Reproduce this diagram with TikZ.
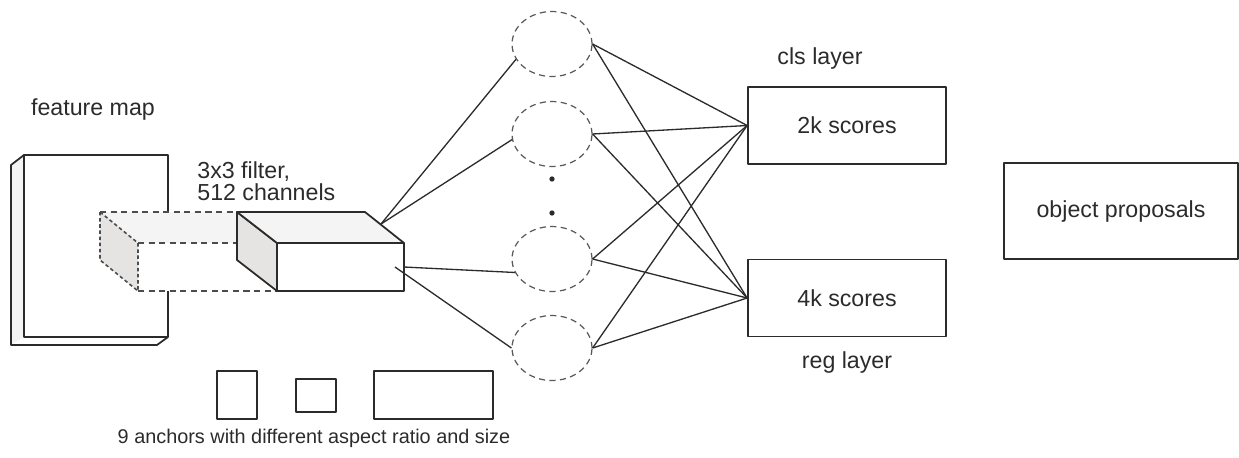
\documentclass[tikz,border=0pt]{standalone}
\usepackage{fontspec}
\setmainfont{Liberation Sans}
\usepackage{tikz}
\definecolor{inkgray}{HTML}{2B2B2B}
\definecolor{sidegray}{HTML}{E6E3E3}
\definecolor{topgray}{HTML}{F4F4F4}
\usetikzlibrary{shapes.geometric}

\begin{document}
\begin{tikzpicture}[x=0.02cm,y=-0.02cm,line join=round,
    lbl/.style={font=\fontsize{13.2}{15}\selectfont, text=inkgray, inner sep=0pt},
    unit/.style={draw=gray!70!black, ellipse, dash pattern=on 3.5pt off 2.5pt, line width=0.7pt,
        minimum width=1.6cm, minimum height=1.3cm, inner sep=0pt},
    layerbox/.style={draw=inkgray, line width=1pt, minimum width=3.96cm, minimum height=1.54cm,
        inner sep=0pt, font=\fontsize{13.2}{15}\selectfont, text=inkgray},
    anchorbox/.style={draw=inkgray, line width=1pt, inner sep=0pt},
    wire/.style={draw=inkgray, line width=0.75pt},
    ghost/.style={draw=gray!60!black, line width=0.9pt, dash pattern=on 3.5pt off 2.5pt}
]
\useasboundingbox (0,0) rectangle (1239,457);

% feature map slab
\fill[topgray] (24,155) -- (11,165) -- (11,345) -- (24,337) -- cycle;
\draw[inkgray, line width=1pt] (24,155) -- (11,165) -- (11,345) -- (157,345) -- (168,337);
\draw[inkgray, line width=1pt, fill=white] (24,155) rectangle (168,337);
\node[lbl] (fmap) at (93,110) {feature map};

% projected filter window
\fill[topgray] (100,212) -- (237,212) -- (277,243) -- (138,243) -- cycle;
\fill[white] (138,243) rectangle (277,291);
\draw[ghost, fill=sidegray, dash pattern=on 2pt off 1.5pt]
    (100,212) -- (138,243) -- (138,291) -- (100,260) -- cycle;
\draw[ghost] (100,212) -- (237,212);
\draw[ghost] (138,243) -- (277,243);
\draw[ghost] (138,291) -- (277,291);

% filter box
\filldraw[draw=inkgray, line width=1pt, fill=sidegray] (237,212) -- (277,243) -- (277,291) -- (237,260) -- cycle;
\filldraw[draw=inkgray, line width=1pt, fill=topgray] (237,212) -- (365,212) -- (404,243) -- (277,243) -- cycle;
\filldraw[draw=inkgray, line width=1pt, fill=white] (277,243) rectangle (404,291);
\node[lbl, anchor=base west] (filt1) at (197,178) {3x3 filter,};
\node[lbl, anchor=base west] (filt2) at (197,200) {512 channels};
\coordinate (f1) at (381,224);
\coordinate (f2) at (404,267);
\coordinate (f3) at (395,267);

% hidden units
\foreach \i/\y in {1/44,2/134,3/259,4/348}
    \node[unit] (e\i) at (552,\y) {};
\node[circle, fill=inkgray, inner sep=0pt, minimum size=3pt] (d1) at (552,179) {};
\node[circle, fill=inkgray, inner sep=0pt, minimum size=3pt] (d2) at (552,213) {};

% output layers
\node[layerbox] (cls) at (847,125.5) {2k scores};
\node[layerbox] (reg) at (847,298) {4k scores};
\node[lbl] (clslbl) at (820,58) {cls layer};
\node[lbl] (reglbl) at (847,362) {reg layer};
\node[layerbox, minimum width=4.68cm, minimum height=1.92cm] (prop) at (1121,211) {object proposals};

% connections
\draw[wire] (f1) -- (e1.203);
\draw[wire] (f1) -- (e2.188);
\draw[wire] (f2) -- (e3.200);
\draw[wire] (f3) -- (e4.180);
\foreach \i in {1,...,4} {
    \draw[wire] (e\i.east) -- (cls.west);
    \draw[wire] (e\i.east) -- (reg.west);
}

% anchors
\node[anchorbox, minimum width=0.8cm, minimum height=0.96cm] (a1) at (237,395) {};
\node[anchorbox, minimum width=0.8cm, minimum height=0.66cm] (a2) at (316,395.5) {};
\node[anchorbox, minimum width=2.38cm, minimum height=0.96cm] (a3) at (433.5,395) {};
\node[lbl, font=\fontsize{11.3}{13}\selectfont] (anch) at (314,438) {9 anchors with different aspect ratio and size};
\end{tikzpicture}
\end{document}
